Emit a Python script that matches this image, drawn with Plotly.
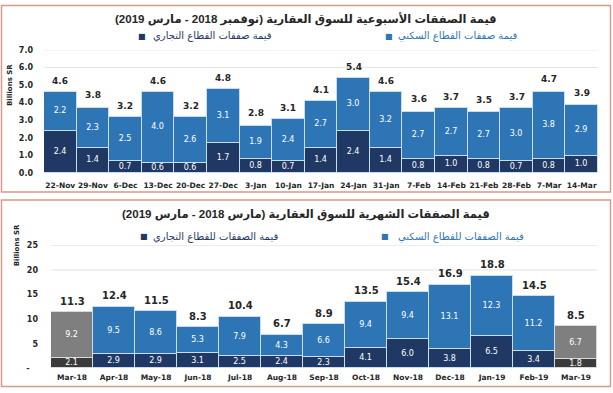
import plotly.graph_objects as go

# ---------------- data ----------------
weeks = ["22-Nov", "29-Nov", "6-Dec", "13-Dec", "20-Dec", "27-Dec", "3-Jan", "10-Jan",
         "17-Jan", "24-Jan", "31-Jan", "7-Feb", "14-Feb", "21-Feb", "28-Feb", "7-Mar", "14-Mar"]
weekly_commercial = [2.4, 1.4, 0.7, 0.6, 0.6, 1.7, 0.8, 0.7, 1.4, 2.4, 1.4, 0.8, 1.0, 0.8, 0.7, 0.8, 1.0]
weekly_residential = [2.2, 2.3, 2.5, 4.0, 2.6, 3.1, 1.9, 2.4, 2.7, 3.0, 3.2, 2.7, 2.7, 2.7, 3.0, 3.8, 2.9]
weekly_total = [4.6, 3.8, 3.2, 4.6, 3.2, 4.8, 2.8, 3.1, 4.1, 5.4, 4.6, 3.6, 3.7, 3.5, 3.7, 4.7, 3.9]

months = ["Mar-18", "Apr-18", "May-18", "Jun-18", "Jul-18", "Aug-18", "Sep-18",
          "Oct-18", "Nov-18", "Dec-18", "Jan-19", "Feb-19", "Mar-19"]
monthly_commercial = [2.1, 2.9, 2.9, 3.1, 2.5, 2.4, 2.3, 4.1, 6.0, 3.8, 6.5, 3.4, 1.8]
monthly_residential = [9.2, 9.5, 8.6, 5.3, 7.9, 4.3, 6.6, 9.4, 9.4, 13.1, 12.3, 11.2, 6.7]
monthly_total = [11.3, 12.4, 11.5, 8.3, 10.4, 6.7, 8.9, 13.5, 15.4, 16.9, 18.8, 14.5, 8.5]
highlight_months = ["Mar-18", "Mar-19"]

weekly_ticks = [0, 1, 2, 3, 4, 5, 6, 7]
weekly_ticktext = ["0.0", "1.0", "2.0", "3.0", "4.0", "5.0", "6.0", "7.0"]
monthly_ticks = [0, 5, 10, 15, 20, 25]
monthly_ticktext = ["-\u00a0\u00a0\u00a0", "5", "10", "15", "20", "25"]

title_weekly = "قيمة الصفقات الأسبوعية للسوق العقارية (نوفمبر 2018 - مارس 2019)"
title_monthly = "قيمة الصفقات الشهرية للسوق العقارية (مارس 2018 - مارس 2019)"
leg_w_com = "قيمة صفقات القطاع التجاري"
leg_w_res = "قيمة صفقات القطاع السكني"
leg_m_com = "قيمة الصفقات للقطاع التجاري"
leg_m_res = "قيمة الصفقات للقطاع السكني"
ytitle = "Billions SR"

# ---------------- style ----------------
W, H = 613, 393
NAVY = "#1f3864"
BLUE = "#2e75b6"
GRAY_D = "#3b3b3b"
GRAY_L = "#7f7f7f"
EDGE = "#c9dcf0"
FONT = "DejaVu Sans"
TFONT = "Liberation Sans, DejaVu Sans"
FRAME = "#d49a8a"


def px(x):
    return x / W


def py(y):
    return 1 - y / H


fig = go.Figure()

lbl = dict(family=FONT, size=8, color="white")

# weekly chart
fig.add_trace(go.Bar(x=weeks, y=weekly_commercial, marker=dict(color=NAVY, line=dict(color=EDGE, width=1)),
                     text=[f"{v:.1f}" for v in weekly_commercial], textposition="inside",
                     insidetextanchor="middle", textfont=lbl, xaxis="x", yaxis="y", showlegend=False,
                     name=leg_w_com))
fig.add_trace(go.Bar(x=weeks, y=weekly_residential, marker=dict(color=BLUE, line=dict(color=EDGE, width=1)),
                     text=[f"{v:.1f}" for v in weekly_residential], textposition="inside",
                     insidetextanchor="middle", textfont=lbl, xaxis="x", yaxis="y", showlegend=False,
                     name=leg_w_res))

# monthly chart
is_hi = [m in highlight_months for m in months]
com_main = [None if h else v for v, h in zip(monthly_commercial, is_hi)]
res_main = [None if h else v for v, h in zip(monthly_residential, is_hi)]
com_hi = [v if h else None for v, h in zip(monthly_commercial, is_hi)]
res_hi = [v if h else None for v, h in zip(monthly_residential, is_hi)]


def txt(vals):
    return [f"{v:.1f}" if v is not None else "" for v in vals]


fig.add_trace(go.Bar(x=months, y=com_main, marker=dict(color=NAVY, line=dict(color=EDGE, width=1)),
                     text=txt(com_main), textposition="inside", insidetextanchor="middle", textfont=lbl,
                     xaxis="x2", yaxis="y2", showlegend=False, name=leg_m_com))
fig.add_trace(go.Bar(x=months, y=com_hi, marker=dict(color=GRAY_D, line=dict(color="#d9d9d9", width=1)),
                     text=txt(com_hi), textposition="inside", insidetextanchor="middle", textfont=lbl,
                     xaxis="x2", yaxis="y2", showlegend=False))
fig.add_trace(go.Bar(x=months, y=res_main, marker=dict(color=BLUE, line=dict(color=EDGE, width=1)),
                     text=txt(res_main), textposition="inside", insidetextanchor="middle", textfont=lbl,
                     xaxis="x2", yaxis="y2", showlegend=False, name=leg_m_res))
fig.add_trace(go.Bar(x=months, y=res_hi, marker=dict(color=GRAY_L, line=dict(color="#d9d9d9", width=1)),
                     text=txt(res_hi), textposition="inside", insidetextanchor="middle", textfont=lbl,
                     xaxis="x2", yaxis="y2", showlegend=False))

tickfont = dict(family=FONT, size=8, color="#262626", weight="bold")
xtickfont = dict(family=FONT, size=7.5, color="#262626", weight="bold")

fig.update_layout(
    width=W, height=H,
    margin=dict(l=0, r=0, t=0, b=0),
    paper_bgcolor="white", plot_bgcolor="rgba(0,0,0,0)",
    barmode="stack", bargap=0,
    uniformtext=dict(minsize=8, mode="show"),
    font=dict(family=FONT, color="#262626"),
    xaxis=dict(domain=[px(44), px(598)], anchor="y", type="category", showline=False, showgrid=False,
               tickfont=xtickfont, tickangle=0, ticks="", ticklabelstandoff=6),
    yaxis=dict(domain=[py(173), py(47)], anchor="x", range=[0, 7], tickvals=weekly_ticks,
               ticktext=weekly_ticktext, showgrid=False, zeroline=False, tickfont=tickfont,
               ticks="", ticklabelstandoff=10),
    xaxis2=dict(domain=[px(51), px(597)], anchor="y2", type="category", showline=False, showgrid=False,
                tickfont=xtickfont, tickangle=0, ticks="", ticklabelstandoff=3),
    yaxis2=dict(domain=[py(373), py(247)], anchor="x2", range=[0, 25], tickvals=monthly_ticks,
                ticktext=monthly_ticktext, showgrid=False, zeroline=False, tickfont=tickfont,
                ticks="", ticklabelstandoff=12),
)

shapes = []
# frames
shapes.append(dict(type="rect", xref="paper", yref="paper", x0=px(1.5), x1=px(610.5), y0=py(192.5), y1=py(1.5),
                   line=dict(color=FRAME, width=1.5), layer="below"))
shapes.append(dict(type="rect", xref="paper", yref="paper", x0=px(1.5), x1=px(610.5), y0=py(391.5), y1=py(200.5),
                   line=dict(color=FRAME, width=1.5), layer="below"))
# faint upper gridlines
for g in [6, 7]:
    shapes.append(dict(type="line", xref="x domain", yref="y", x0=0, x1=1, y0=g, y1=g,
                       line=dict(color="#e3e3e3", width=1), layer="below"))
for g in [20, 25]:
    shapes.append(dict(type="line", xref="x2 domain", yref="y2", x0=0, x1=1, y0=g, y1=g,
                       line=dict(color="#e3e3e3", width=1), layer="below"))
fig.update_layout(shapes=shapes)

ann = []
# totals above stacked bars
for cat, tot in zip(weeks, weekly_total):
    ann.append(dict(text=f"{tot:.1f}", x=cat, y=tot, xref="x", yref="y", showarrow=False,
                    xanchor="center", yanchor="bottom", yshift=4,
                    font=dict(family=FONT, size=9, color="#262626", weight="bold")))
for cat, tot in zip(months, monthly_total):
    ann.append(dict(text=f"{tot:.1f}", x=cat, y=tot, xref="x2", yref="y2", showarrow=False,
                    xanchor="center", yanchor="bottom", yshift=4,
                    font=dict(family=FONT, size=10, color="#262626", weight="bold")))

ann.append(dict(text=title_weekly, x=px(306), y=py(16), xref="paper", yref="paper", showarrow=False,
                font=dict(family=TFONT, size=11.5, color="#262626", weight="bold"), xanchor="center",
                yanchor="middle"))
ann.append(dict(text=title_monthly, x=px(306), y=py(216), xref="paper", yref="paper", showarrow=False,
                font=dict(family=TFONT, size=11.5, color="#262626", weight="bold"), xanchor="center",
                yanchor="middle"))


def legend_item(xm, xt, y, color, label):
    ann.append(dict(text="■", x=px(xm), y=py(y), xref="paper", yref="paper", showarrow=False,
                    font=dict(family=FONT, size=8, color=color), xanchor="center", yanchor="middle"))
    ann.append(dict(text=label, x=px(xt), y=py(y), xref="paper", yref="paper", showarrow=False,
                    font=dict(family=FONT, size=10, color=color), xanchor="left", yanchor="middle"))


legend_item(142, 151, 33, NAVY, leg_w_com)
legend_item(389, 396, 33, BLUE, leg_w_res)
legend_item(144, 151, 238, NAVY, leg_m_com)
legend_item(385, 396, 238, BLUE, leg_m_res)

ann.append(dict(text=ytitle, x=px(10), y=py(83), xref="paper", yref="paper", showarrow=False, textangle=-90,
                font=dict(family=FONT, size=7, color="#262626", weight="bold"), xanchor="center", yanchor="middle"))
ann.append(dict(text=ytitle, x=px(17), y=py(247), xref="paper", yref="paper", showarrow=False, textangle=-90,
                font=dict(family=FONT, size=7, color="#262626", weight="bold"), xanchor="center", yanchor="middle"))
fig.update_layout(annotations=ann)

fig.write_html("out.html", config={"displayModeBar": False},
               post_script="document.body.style.margin='0';document.body.style.overflow='hidden';")
